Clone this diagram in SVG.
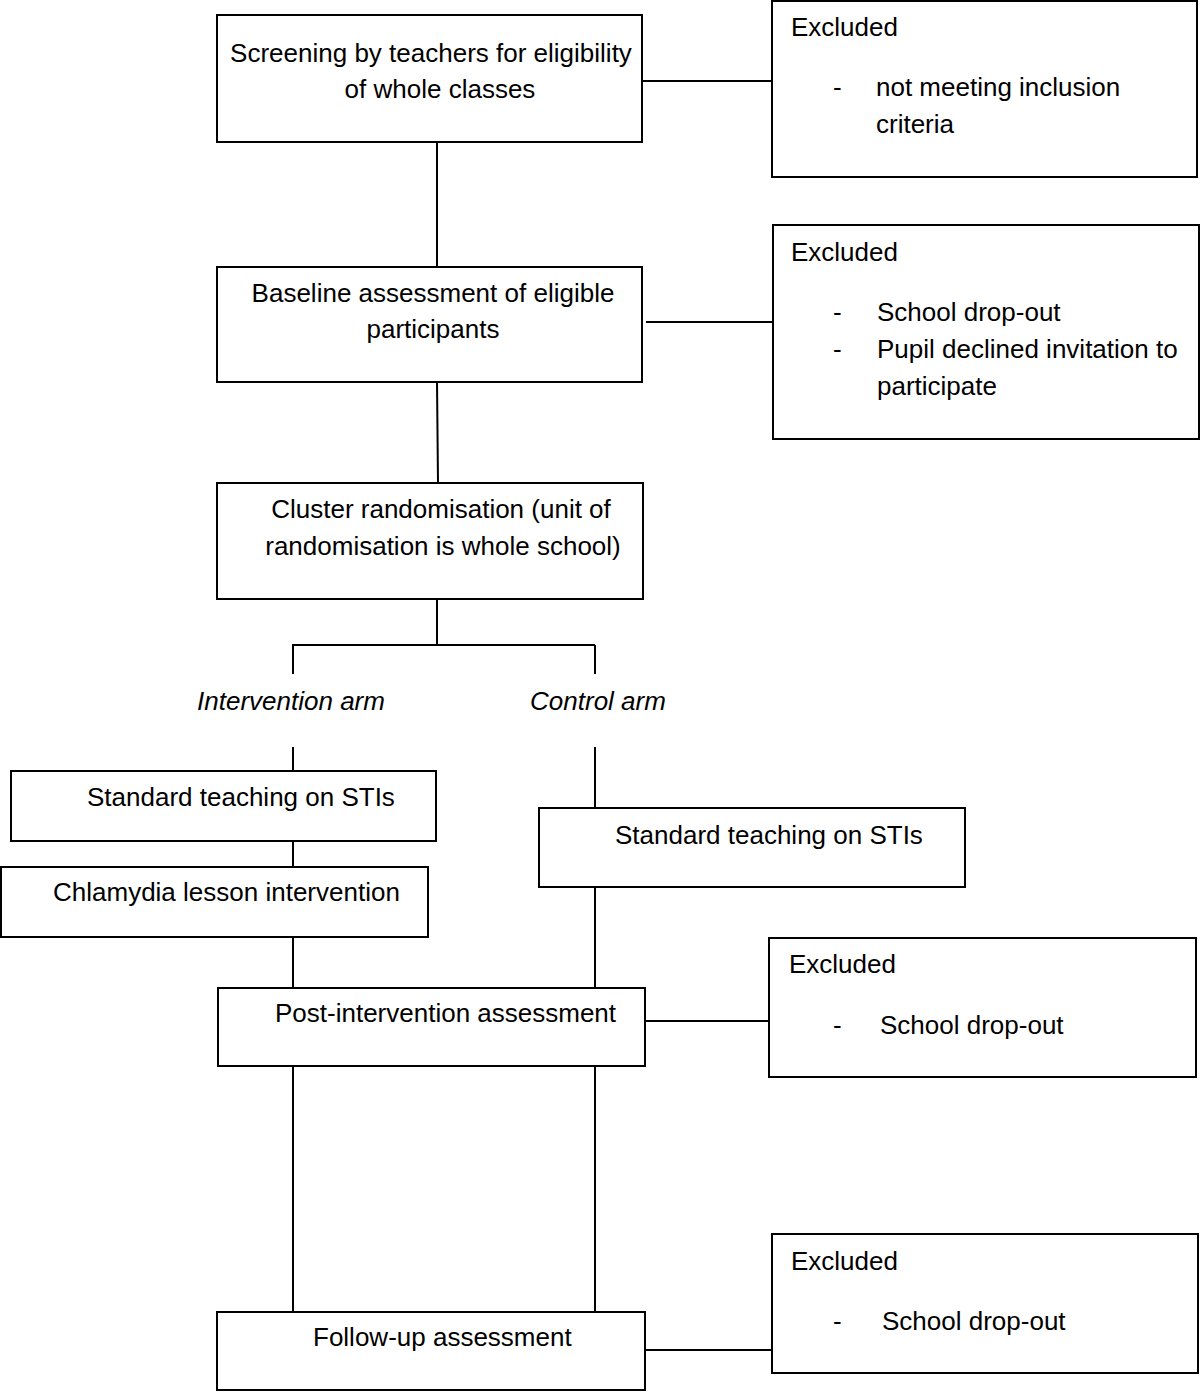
<svg xmlns="http://www.w3.org/2000/svg" width="1200" height="1392" viewBox="0 0 1200 1392">
<style>
rect{fill:#fff;stroke:#000;stroke-width:2}
line{stroke:#000;stroke-width:2}
text{font-family:"Liberation Sans",Arial,sans-serif;font-size:26px;fill:#000}
.c{text-anchor:middle}
.i{font-style:italic}
</style>
<rect x="0" y="0" width="1200" height="1392" style="stroke:none"/>
<g id="connectors">
<line x1="642" y1="81" x2="772" y2="81"/>
<line x1="437" y1="142" x2="437" y2="267"/>
<line x1="646" y1="322" x2="773" y2="322"/>
<line x1="437" y1="382" x2="438" y2="483"/>
<line x1="437" y1="599" x2="437" y2="645"/>
<line x1="292" y1="645" x2="595" y2="645"/>
<line x1="293" y1="645" x2="293" y2="674"/>
<line x1="595" y1="645" x2="595" y2="674"/>
<line x1="293" y1="747" x2="293" y2="771"/>
<line x1="595" y1="747" x2="595" y2="808"/>
<line x1="293" y1="841" x2="293" y2="867"/>
<line x1="293" y1="935" x2="293" y2="988"/>
<line x1="595" y1="887" x2="595" y2="988"/>
<line x1="645" y1="1021" x2="769" y2="1021"/>
<line x1="293" y1="1066" x2="293" y2="1311"/>
<line x1="595" y1="1066" x2="595" y2="1311"/>
<line x1="645" y1="1350" x2="772" y2="1350"/>
</g>
<g id="screening">
<rect x="217" y="15" width="425" height="127"/>
<text x="431" y="62" class="c">Screening by teachers for eligibility</text>
<text x="440" y="98" class="c">of whole classes</text>
</g>
<g id="excluded1">
<rect x="772" y="1" width="425" height="176"/>
<text x="791" y="36">Excluded</text>
<text x="833" y="96">-</text>
<text x="876" y="96">not meeting inclusion</text>
<text x="876" y="133">criteria</text>
</g>
<g id="baseline">
<rect x="217" y="267" width="425" height="115"/>
<text x="433" y="302" class="c">Baseline assessment of eligible</text>
<text x="433" y="338" class="c">participants</text>
</g>
<g id="excluded2">
<rect x="773" y="225" width="426" height="214"/>
<text x="791" y="261">Excluded</text>
<text x="833" y="321">-</text>
<text x="877" y="321">School drop-out</text>
<text x="833" y="358">-</text>
<text x="877" y="358">Pupil declined invitation to</text>
<text x="877" y="395">participate</text>
</g>
<g id="randomisation">
<rect x="217" y="483" width="426" height="116"/>
<text x="441" y="518" class="c">Cluster randomisation (unit of</text>
<text x="443" y="555" class="c">randomisation is whole school)</text>
</g>
<g id="intervention-arm">
<text x="291" y="710" class="c i">Intervention arm</text>
</g>
<g id="control-arm">
<text x="598" y="710" class="c i">Control arm</text>
</g>
<g id="standard-intervention">
<rect x="11" y="771" width="425" height="70"/>
<text x="87" y="806">Standard teaching on STIs</text>
</g>
<g id="chlamydia">
<rect x="1" y="867" width="427" height="70"/>
<text x="53" y="901">Chlamydia lesson intervention</text>
</g>
<g id="standard-control">
<rect x="539" y="808" width="426" height="79"/>
<text x="615" y="844">Standard teaching on STIs</text>
</g>
<g id="post">
<rect x="218" y="988" width="427" height="78"/>
<text x="275" y="1022">Post-intervention assessment</text>
</g>
<g id="excluded3">
<rect x="769" y="938" width="427" height="139"/>
<text x="789" y="973">Excluded</text>
<text x="833" y="1034">-</text>
<text x="880" y="1034">School drop-out</text>
</g>
<g id="followup">
<rect x="217" y="1312" width="428" height="78"/>
<text x="313" y="1346">Follow-up assessment</text>
</g>
<g id="excluded4">
<rect x="772" y="1234" width="426" height="139"/>
<text x="791" y="1270">Excluded</text>
<text x="833" y="1330">-</text>
<text x="882" y="1330">School drop-out</text>
</g>
</svg>
